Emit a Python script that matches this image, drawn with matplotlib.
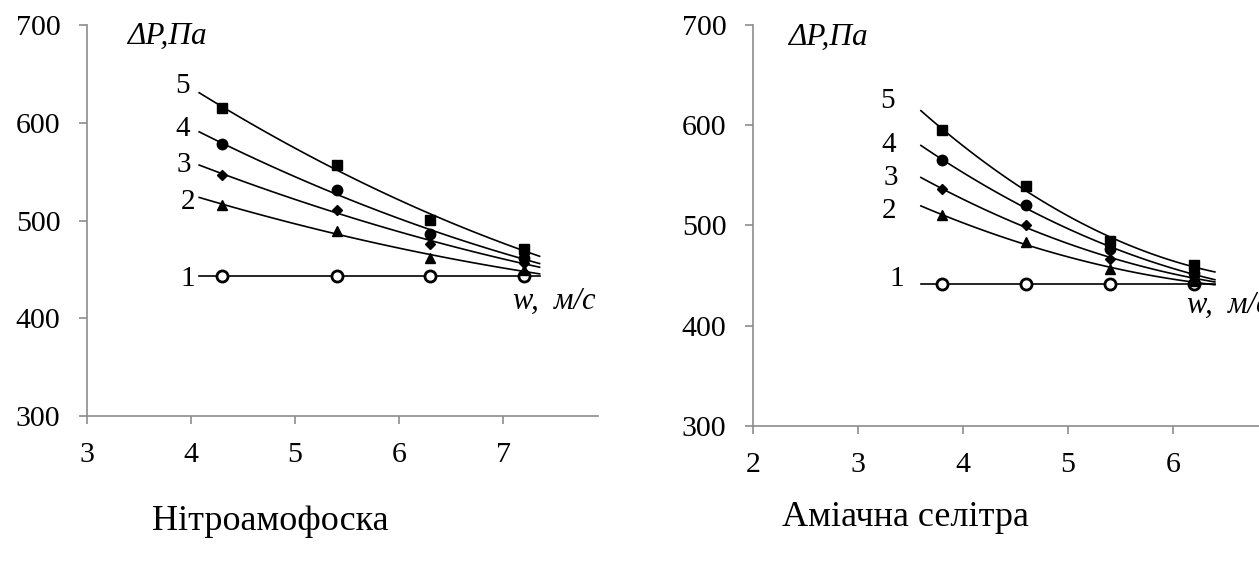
import numpy as np
import matplotlib
matplotlib.use("Agg")
import matplotlib.pyplot as plt

plt.rcParams['font.family'] = ['Liberation Serif', 'DejaVu Serif']

# данные: скорость w, м/с и перепад давления, Па (кривые 1..5)
w_left = [4.3, 5.4, 6.3, 7.2]
dp_left = {
    "1": [443, 443, 443, 443],
    "2": [516, 489, 462, 449],
    "3": [547, 511, 476, 457],
    "4": [578, 531, 486, 462],
    "5": [615, 557, 501, 471],
}
w_right = [3.8, 4.6, 5.4, 6.2]
dp_right = {
    "1": [441, 441, 441, 441],
    "2": [510, 483, 456, 444],
    "3": [536, 500, 466, 448],
    "4": [565, 520, 476, 452],
    "5": [595, 539, 484, 460],
}
titles = ["Нітроамофоска", "Аміачна селітра"]
y_ticks = [300, 400, 500, 600, 700]

styles = {
    "1": dict(marker="o", mfc="white", mec="black", mew=2.0, ms=8),
    "2": dict(marker="^", mfc="black", mec="black", ms=7),
    "3": dict(marker="D", mfc="black", mec="black", ms=5),
    "4": dict(marker="o", mfc="black", mec="black", ms=7.5),
    "5": dict(marker="s", mfc="black", mec="black", ms=7),
}

fig = plt.figure(figsize=(12.59, 5.67), dpi=100)
ax1 = fig.add_axes([0.0689, 0.2663, 0.406, 0.6896])
ax2 = fig.add_axes([0.598, 0.2492, 0.417, 0.7067])


def draw(ax, w, dp, xlim, xticks, fit_range, gap, lab_dy):
    for i, (name, vals) in enumerate(dp.items()):
        # трендлайн (полином 2-й степени)
        coef = np.polyfit(w, vals, 2)
        xs = np.linspace(fit_range[0], fit_range[1], 100)
        ax.plot(xs, np.polyval(coef, xs), color="black", lw=1.2, zorder=2)
        ax.plot(w, vals, ls="none", zorder=3, **styles[name])
        y0 = np.polyval(coef, fit_range[0])
        ax.annotate(name, xy=(fit_range[0], y0), xytext=(-gap[i], lab_dy[i]),
                    textcoords="offset points", ha="right", va="center",
                    fontsize=21)
    ax.set_xlim(*xlim)
    ax.set_ylim(300, 700)
    ax.set_xticks(xticks)
    ax.set_yticks(y_ticks)
    for s in ["top", "right"]:
        ax.spines[s].set_visible(False)
    for s in ["left", "bottom"]:
        ax.spines[s].set_color("#8c8c8c")
        ax.spines[s].set_linewidth(1.2)
    ax.tick_params(axis="both", colors="#8c8c8c", labelcolor="black",
                   length=6, width=1.2, labelsize=21.5)
    ax.tick_params(axis="y", pad=13)
    ax.tick_params(axis="x", pad=13)
    ax.patch.set_alpha(0)


# отступы подписей кривых (порядок 1..5)
draw(ax1, w_left, dp_left, (3, 7.91), [3, 4, 5, 6, 7], (4.08, 7.35),
     [3, 2.5, 6, 6.6, 6.6], [-1.7, -3, -0.2, 1.9, 4.9])
draw(ax2, w_right, dp_right, (2, 7.0), [2, 3, 4, 5, 6], (3.6, 6.4),
     [12, 18, 16.5, 18, 19], [4.2, -3.7, -0.5, 0.6, 7])

ax1.text(3.39, 688, "ΔP,Па", style="italic", fontsize=22.5, va="center")
ax1.text(7.89, 417, "w,  м/с", style="italic", fontsize=22, ha="right",
         va="center")
ax2.text(2.33, 688, "ΔP,Па", style="italic", fontsize=22.5, va="center")
ax2.text(6.13, 420, "w,  м/с", style="italic", fontsize=22, va="center")

fig.text(270 / 1259, 1 - 522 / 567, titles[0], fontsize=26, ha="center",
         va="center")
fig.text(905 / 1259, 1 - 517 / 567, titles[1], fontsize=26, ha="center",
         va="center")

fig.savefig("out.png", dpi=100)
